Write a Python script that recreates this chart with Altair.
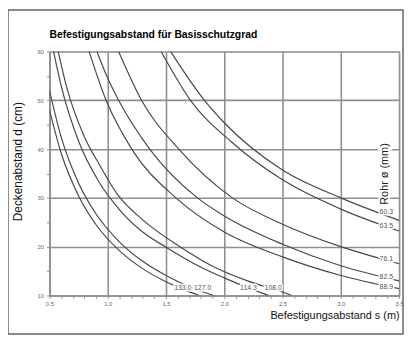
import altair as alt
import pandas as pd

# ---- data (s in m, d in cm) ----
pipes = ["133.0", "127.0", "114.3", "108.0", "88.9", "82.5", "76.1", "63.5", "60.3"]

s_1330 = [0.5, 0.6, 0.75, 0.9, 1.1, 1.3, 1.5, 1.65, 1.785]
d_1330 = [48.0, 39.2, 30.4, 24.5, 19.2, 15.5, 12.8, 11.2, 10.0]

s_1270 = [0.5, 0.6, 0.75, 0.9, 1.1, 1.3, 1.5, 1.7, 1.91]
d_1270 = [52.0, 42.5, 33.0, 26.7, 21.0, 17.0, 14.1, 11.8, 10.0]

s_1143 = [0.535, 0.6, 0.75, 0.924, 1.1, 1.3, 1.5, 1.8, 2.0, 2.2, 2.38]
d_1143 = [60.0, 53.0, 41.6, 33.3, 27.6, 23.0, 19.9, 15.8, 13.6, 11.6, 10.0]

s_1080 = [0.575, 0.65, 0.8, 0.924, 1.09, 1.3, 1.62, 1.9, 2.2, 2.5, 2.58]
d_1080 = [60.0, 52.5, 42.5, 37.0, 30.5, 25.5, 20.0, 16.0, 13.0, 10.7, 10.0]

s_889 = [0.84, 0.986, 1.206, 1.585, 2.0, 2.5, 3.0, 3.5]
d_889 = [60.0, 50.0, 40.0, 30.0, 23.0, 17.9, 14.1, 11.4]

s_825 = [0.907, 1.0, 1.093, 1.36, 1.77, 2.0, 2.5, 3.0, 3.5]
d_825 = [60.0, 54.5, 50.0, 40.0, 30.0, 26.3, 20.5, 16.1, 13.0]

s_761 = [1.093, 1.29, 1.61, 2.07, 2.5, 3.0, 3.5]
d_761 = [60.0, 50.0, 40.0, 30.0, 24.6, 20.0, 16.5]

s_635 = [1.458, 1.71, 2.07, 2.5, 3.0, 3.5]
d_635 = [60.0, 50.0, 41.3, 33.7, 27.7, 23.2]

s_603 = [1.54, 1.83, 2.0, 2.5, 3.0, 3.5]
d_603 = [60.0, 50.0, 45.4, 35.7, 30.0, 25.4]

series = [
    (s_1330, d_1330), (s_1270, d_1270), (s_1143, d_1143), (s_1080, d_1080),
    (s_889, d_889), (s_825, d_825), (s_761, d_761), (s_635, d_635), (s_603, d_603),
]

# curve labels
label_text = ["133.0", "127.0", "114.3", "108.0", "60.3", "63.5", "76.1", "82.5", "88.9"]
label_s = [1.644, 1.814, 2.208, 2.42, 3.39, 3.39, 3.39, 3.39, 3.39]
label_d = [11.6, 11.6, 11.6, 11.6, 27.0, 24.2, 17.5, 13.8, 11.8]

# tick values
x_ticks = [0.5, 0.6, 0.7, 0.8, 0.9, 1.0, 1.1, 1.2, 1.3, 1.4, 1.5, 1.6, 1.7, 1.8, 1.9,
           2.0, 2.1, 2.2, 2.3, 2.4, 2.5, 2.6, 2.7, 2.8, 2.9, 3.0, 3.1, 3.2, 3.3, 3.4, 3.5]
y_ticks = [10, 15, 20, 25, 30, 35, 40, 45, 50, 55, 60]

title_text = "Befestigungsabstand für Basisschutzgrad"

rows = []
for name, (ss, dd) in zip(pipes, series):
    for s, d in zip(ss, dd):
        rows.append({"pipe": name, "s": s, "d": d})
df = pd.DataFrame(rows)
lab = pd.DataFrame({"t": label_text, "s": label_s, "d": label_d})
rohr = pd.DataFrame({"t": ["Rohr ø (mm)"], "s": [3.38], "d": [34.9]})
one_df = pd.DataFrame({"t": [title_text]})

FONT = "Liberation Sans"
GRID = "#8f8f8f"
xmajor = "(round(datum.value*10) % 5) == 0"
ymajor = "(round(datum.value) % 10) == 0"

xs = alt.Scale(domain=[0.5, 3.5], nice=False, zero=False)
ys = alt.Scale(domain=[10, 60], nice=False, zero=False)

x_axis = alt.Axis(
    values=x_ticks, format=".1f", title="Befestigungsabstand s (m)",
    labelExpr=f"{xmajor} ? datum.label : ''",
    grid=True, gridColor=GRID, gridWidth=1.6,
    gridOpacity={"condition": {"test": xmajor, "value": 1}, "value": 0},
    tickSize=3, tickColor=GRID, tickWidth=1,
    domainColor=GRID, domainWidth=1.6,
    labelFontSize=6, labelColor="#666666", labelPadding=2, labelFont=FONT,
    labelFlush=False, labelOverlap=False,
    titleFont=FONT, titleFontSize=11, titleFontWeight="normal", titleColor="#111111",
    titleAlign="right", titleX=354, titleY=23, titleBaseline="alphabetic",
)
y_axis = alt.Axis(
    values=y_ticks, format="d", title="Deckenabstand d (cm)",
    labelExpr=f"{ymajor} ? datum.label : ''",
    grid=True, gridColor=GRID, gridWidth=1.6,
    gridOpacity={"condition": {"test": ymajor, "value": 1}, "value": 0},
    tickSize=3, tickColor=GRID, tickWidth=1,
    domainColor=GRID, domainWidth=1.6,
    labelFontSize=6, labelColor="#666666", labelPadding=3, labelFont=FONT,
    labelFlush=False, labelOverlap=False,
    titleFont=FONT, titleFontSize=12, titleFontWeight="normal", titleColor="#111111",
    titleAlign="center", titleX=-25, titleY=111,
)

X = alt.X("s:Q", scale=xs, axis=x_axis)
Y = alt.Y("d:Q", scale=ys, axis=y_axis)

lines = alt.Chart(df).mark_line(
    color="#484848", strokeWidth=1.2, interpolate="monotone", clip=True
).encode(x=X, y=Y, detail="pipe:N")

halo = alt.Chart(lab).mark_text(
    font=FONT, fontSize=7, fill="white", stroke="white", strokeWidth=3,
    align="center", baseline="middle"
).encode(x=X, y=Y, text="t:N")

labels = alt.Chart(lab).mark_text(
    font=FONT, fontSize=7, color="#555555", align="center", baseline="middle"
).encode(x=X, y=Y, text="t:N")

rohr_halo = alt.Chart(rohr).mark_text(
    font=FONT, fontSize=11, fill="white", stroke="white", strokeWidth=4,
    angle=270, align="center", baseline="middle"
).encode(x=X, y=Y, text="t:N")

rohr_text = alt.Chart(rohr).mark_text(
    font=FONT, fontSize=11, color="#222222", angle=270, align="center", baseline="middle"
).encode(x=X, y=Y, text="t:N")

title_mark = alt.Chart(one_df).mark_text(
    font=FONT, fontSize=10.5, fontWeight="bold", color="#000000",
    align="left", baseline="alphabetic"
).encode(x=alt.value(0), y=alt.value(-14), text="t:N")

frame = alt.Chart(one_df).mark_rect(
    fillOpacity=0, stroke="#666666", strokeWidth=1.5
).encode(
    x=alt.value(-42), x2=alt.value(358), y=alt.value(-42), y2=alt.value(286)
)

chart = alt.layer(lines, halo, labels, rohr_halo, rohr_text, title_mark, frame).properties(
    width=354, height=247,
    autosize=alt.AutoSizeParams(type="none"),
    padding={"left": 42, "top": 42, "right": 6, "bottom": 41},
).configure_view(stroke=GRID, strokeWidth=1.6).configure(background="white")

chart.save("out.html", embed_options={"renderer": "svg", "actions": False})
